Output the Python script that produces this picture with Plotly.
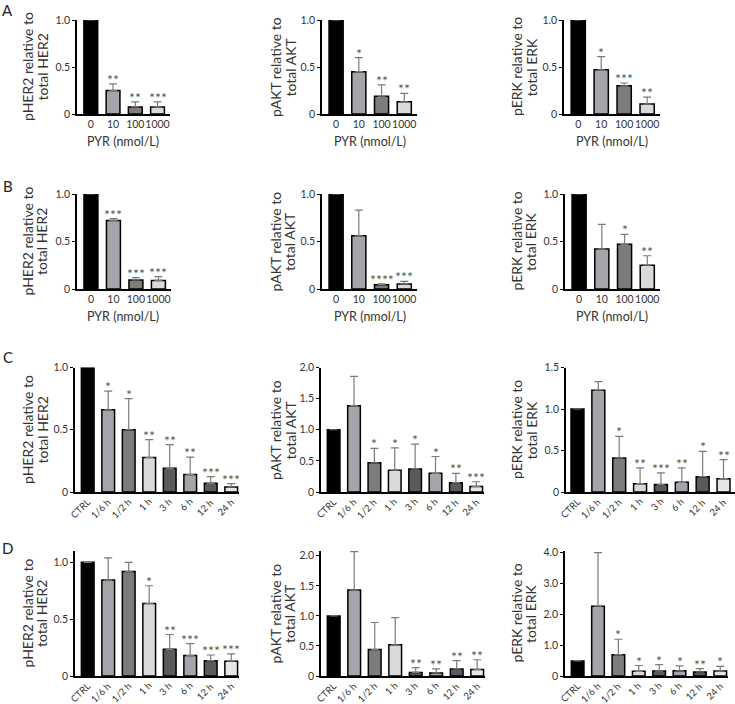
import plotly.graph_objects as go

# ---------------- data ----------------
dose_labels = ["0", "10", "100", "1000"]
time_labels = ["CTRL", "1/6 h", "1/2 h", "1 h", "3 h", "6 h", "12 h", "24 h"]

# Row A
A_her2 = [1.0, 0.25, 0.075, 0.075]
A_her2_err = [0.0, 0.07, 0.055, 0.055]
A_her2_sig = ["", "**", "**", "***"]
A_akt = [1.0, 0.45, 0.19, 0.13]
A_akt_err = [0.0, 0.15, 0.12, 0.09]
A_akt_sig = ["", "*", "**", "**"]
A_erk = [1.0, 0.47, 0.30, 0.106]
A_erk_err = [0.0, 0.14, 0.03, 0.074]
A_erk_sig = ["", "*", "***", "**"]

# Row B
B_her2 = [1.0, 0.72, 0.095, 0.09]
B_her2_err = [0.0, 0.02, 0.025, 0.04]
B_her2_sig = ["", "***", "***", "***"]
B_akt = [1.0, 0.56, 0.046, 0.053]
B_akt_err = [0.0, 0.27, 0.007, 0.027]
B_akt_sig = ["", "", "****", "***"]
B_erk = [1.0, 0.42, 0.47, 0.25]
B_erk_err = [0.0, 0.26, 0.105, 0.10]
B_erk_sig = ["", "", "*", "**"]

# Row C
C_her2 = [1.0, 0.66, 0.50, 0.277, 0.19, 0.14, 0.07, 0.04]
C_her2_err = [0.0, 0.15, 0.25, 0.143, 0.19, 0.14, 0.054, 0.027]
C_her2_sig = ["", "*", "*", "**", "**", "**", "***", "***"]
C_akt = [1.0, 1.387, 0.47, 0.35, 0.37, 0.30, 0.15, 0.09]
C_akt_err = [0.0, 0.47, 0.23, 0.36, 0.40, 0.27, 0.15, 0.075]
C_akt_sig = ["", "", "*", "*", "*", "*", "**", "***"]
C_erk = [1.0, 1.226, 0.41, 0.10, 0.09, 0.117, 0.185, 0.16]
C_erk_err = [0.0, 0.104, 0.26, 0.19, 0.14, 0.173, 0.305, 0.23]
C_erk_sig = ["", "", "*", "**", "***", "**", "*", "**"]

# Row D
D_her2 = [1.0, 0.844, 0.92, 0.638, 0.235, 0.18, 0.135, 0.13]
D_her2_err = [0.0, 0.196, 0.08, 0.156, 0.13, 0.105, 0.05, 0.064]
D_her2_sig = ["", "", "", "*", "**", "***", "***", "***"]
D_akt = [1.0, 1.43, 0.44, 0.52, 0.06, 0.05, 0.117, 0.11]
D_akt_err = [0.0, 0.64, 0.45, 0.45, 0.08, 0.07, 0.139, 0.16]
D_akt_sig = ["", "", "", "", "**", "**", "**", "**"]
D_erk = [0.49, 2.26, 0.69, 0.15, 0.16, 0.17, 0.13, 0.16]
D_erk_err = [0.0, 1.74, 0.50, 0.19, 0.21, 0.16, 0.11, 0.15]
D_erk_sig = ["", "", "*", "*", "*", "*", "**", "*"]

dose_colors = ["#000000", "#a4a4aa", "#7c7c7c", "#d9d9d9"]
time_colors = ["#000000", "#a4a4aa", "#7c7c7c", "#d9d9d9", "#5a5a5a", "#a4a4aa", "#5a5a5a", "#e6e6e6"]

tick_01 = [0, 0.5, 1.0]
tick_01_txt = ["0", "0.5", "1.0"]
tick_015 = [0, 0.5, 1.0, 1.5]
tick_015_txt = ["0", "0.5", "1.0", "1.5"]
tick_02 = [0, 0.5, 1.0, 1.5, 2.0]
tick_02_txt = ["0", "0.5", "1.0", "1.5", "2.0"]
tick_04 = [0, 1.0, 2.0, 3.0, 4.0]
tick_04_txt = ["0", "1.0", "2.0", "3.0", "4.0"]

ytitle_line1 = ["pHER2 relative to", "pAKT relative to", "pERK relative to"]
ytitle_line2 = ["total HER2", "total AKT", "total ERK"]
panel_letters = ["A", "B", "C", "D"]
xlabel_dose = "PYR (nmol/L)"

# ---------------- layout geometry (pixels) ----------------
W, H = 735, 704
FONT = "Lato"
TXT = "#333333"

panels = [
    (A_her2, A_her2_err, A_her2_sig, dose_labels, dose_colors, [0, 1.0], tick_01, tick_01_txt, (77, 170), (20, 114)),
    (A_akt, A_akt_err, A_akt_sig, dose_labels, dose_colors, [0, 1.0], tick_01, tick_01_txt, (322, 417), (20, 114)),
    (A_erk, A_erk_err, A_erk_sig, dose_labels, dose_colors, [0, 1.0], tick_01, tick_01_txt, (564, 660), (20, 114)),
    (B_her2, B_her2_err, B_her2_sig, dose_labels, dose_colors, [0, 1.0], tick_01, tick_01_txt, (77, 171), (194, 289)),
    (B_akt, B_akt_err, B_akt_sig, dose_labels, dose_colors, [0, 1.0], tick_01, tick_01_txt, (322, 417), (194, 289)),
    (B_erk, B_erk_err, B_erk_sig, dose_labels, dose_colors, [0, 1.0], tick_01, tick_01_txt, (565, 660), (194, 289)),
    (C_her2, C_her2_err, C_her2_sig, time_labels, time_colors, [0, 1.0], tick_01, tick_01_txt, (75, 239), (367.5, 492)),
    (C_akt, C_akt_err, C_akt_sig, time_labels, time_colors, [0, 2.0], tick_02, tick_02_txt, (321, 484), (367.5, 492)),
    (C_erk, C_erk_err, C_erk_sig, time_labels, time_colors, [0, 1.5], tick_015, tick_015_txt, (566, 735), (367.5, 492)),
    (D_her2, D_her2_err, D_her2_sig, time_labels, time_colors, [0, 1.1], tick_01, tick_01_txt, (75, 239), (551, 676)),
    (D_akt, D_akt_err, D_akt_sig, time_labels, time_colors, [0, 2.08], tick_02, tick_02_txt, (321, 485), (551, 676)),
    (D_erk, D_erk_err, D_erk_sig, time_labels, time_colors, [0, 4.05], tick_04, tick_04_txt, (565, 728), (551, 676)),
]

fig = go.Figure()
annotations = []
layout = {}

for i, (vals, errs, sigs, cats, cols, yr, tv, tt, xpx, ypx) in enumerate(panels):
    n = i + 1
    xa = "x" if n == 1 else f"x{n}"
    ya = "y" if n == 1 else f"y{n}"
    xkey = "xaxis" if n == 1 else f"xaxis{n}"
    ykey = "yaxis" if n == 1 else f"yaxis{n}"
    ncat = len(cats)
    xs = list(range(ncat))
    fig.add_trace(go.Bar(
        x=xs, y=vals, xaxis=xa, yaxis=ya, width=0.62,
        marker=dict(color=cols, line=dict(color="#000000", width=1.5)),
        error_y=dict(type="data", array=errs, arrayminus=[0] * ncat, symmetric=False,
                     color="#7a7a7a", thickness=1.2, width=4),
        showlegend=False, hoverinfo="skip",
    ))
    rotated = ncat > 4
    if not rotated:
        xr = [-0.62, 3.56]
    else:
        xr = [-0.62, 7.38] if xpx[1] - xpx[0] < 168 else [-0.55, 7.55]
    layout[xkey] = dict(
        domain=[xpx[0] / W, xpx[1] / W], anchor=ya, range=xr, automargin=False,
        tickvals=xs, ticktext=cats, ticks="", tickangle=0, showticklabels=not rotated,
        showline=True, linecolor="#000000", linewidth=1.6, showgrid=False, zeroline=False,
        tickfont=dict(family=FONT, size=10.5, color=TXT),
    )
    layout[ykey] = dict(
        domain=[1 - ypx[1] / H, 1 - ypx[0] / H], anchor=xa, range=yr, automargin=False,
        tickvals=tv, ticktext=tt, ticks="outside", ticklen=3, tickwidth=1.2, tickcolor="#000000",
        showline=True, linecolor="#000000", linewidth=1.6, showgrid=False, zeroline=False,
        tickfont=dict(family=FONT, size=10.5, color=TXT),
    )
    if rotated:
        # rotated category labels, anchored at their upper-right end just below the axis
        for k, lab in enumerate(cats):
            annotations.append(dict(
                x=xs[k], y=0, xref=xa, yref=ya, text=lab, textangle=-45, showarrow=False,
                xanchor="right", yanchor="top", xshift=6, yshift=-3, borderpad=0,
                font=dict(family=FONT, size=9.5, color=TXT),
            ))
    for k, s in enumerate(sigs):
        if s:
            annotations.append(dict(
                x=xs[k], y=vals[k] + errs[k], xref=xa, yref=ya, text=s, showarrow=False,
                yanchor="bottom", yshift=-6, font=dict(family=FONT, size=14, color="#555555"),
            ))

# y-axis titles (two separate lines, tight spacing)
col_line1_x = [27, 275, 516]
col_line2_x = [41.5, 289.5, 530.5]
row_centers = [67, 241.5, 430, 613.5]
for r in range(4):
    for c in range(3):
        for lx, txt in ((col_line1_x[c], ytitle_line1[c]), (col_line2_x[c], ytitle_line2[c])):
            annotations.append(dict(
                x=lx / W, y=1 - row_centers[r] / H, xref="paper", yref="paper",
                text=txt, textangle=-90, showarrow=False, xanchor="center", yanchor="middle",
                font=dict(family=FONT, size=14, color=TXT),
            ))

# x-axis titles for dose rows
for rowy in [141, 317]:
    for cx in [123, 370, 612]:
        annotations.append(dict(
            x=cx / W, y=1 - rowy / H, xref="paper", yref="paper", text=xlabel_dose,
            showarrow=False, xanchor="center", yanchor="middle",
            font=dict(family=FONT, size=12.5, color=TXT),
        ))

# panel letters
for letter, ly in zip(panel_letters, [10, 186, 357, 548]):
    annotations.append(dict(
        x=8 / W, y=1 - ly / H, xref="paper", yref="paper", text=letter, showarrow=False,
        xanchor="center", yanchor="middle", font=dict(family=FONT, size=15, color="#222222"),
    ))

fig.update_layout(
    width=W, height=H, margin=dict(l=0, r=0, t=0, b=0, autoexpand=False),
    paper_bgcolor="white", plot_bgcolor="white", bargap=0.3,
    annotations=annotations, **layout,
)

fig.write_html(
    "out.html",
    config={"displayModeBar": False},
    post_script="document.body.style.margin='0px';document.body.style.padding='0px';",
)
